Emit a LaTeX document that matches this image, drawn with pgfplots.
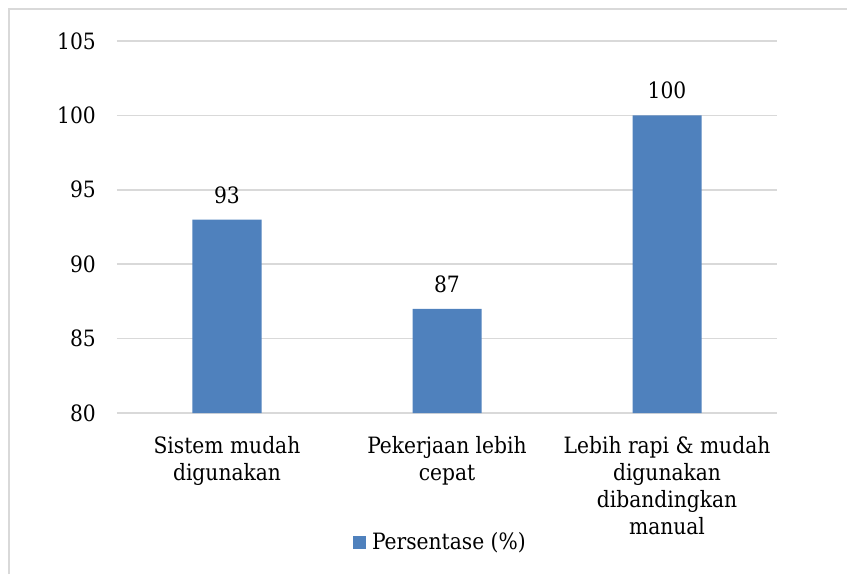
\documentclass[border=0pt]{standalone}
\usepackage{pgfplots}
\pgfplotsset{compat=1.18}
\usepackage{fontspec}
\setmainfont{DejaVu Serif Condensed}
\definecolor{barblue}{HTML}{4F81BD}
\definecolor{gridgray}{HTML}{D9D9D9}
\begin{document}
\fontsize{22.5}{27}\selectfont
\begin{tikzpicture}[x=1pt,y=1pt]
\useasboundingbox (0,0) rectangle (847,574);
\draw[gridgray, line width=2pt] (9,0) -- (9,565) -- (847,565);
\begin{axis}[
  at={(117pt,161pt)}, anchor=south west,
  scale only axis, width=660pt, height=372pt,
  ybar, bar width=69pt,
  xmin=-0.5, xmax=2.5, ymin=80, ymax=105,
  ytick={80,85,...,105},
  xtick={0,1,2},
  xticklabels={{Sistem mudah\\digunakan}, {Pekerjaan lebih\\cepat}, {Lebih rapi \& mudah\\digunakan\\dibandingkan\\manual}},
  axis line style={draw=none},
  major tick length=0pt,
  ymajorgrids, grid style={gridgray, line width=1.5pt},
  yticklabel style={inner sep=0pt, xshift=-21pt},
  xticklabel style={anchor=north, inner sep=0pt, yshift=-23pt, align=center},
  /pgf/number format/assume math mode=true,
  nodes near coords,
  every node near coord/.append style={anchor=south, inner sep=0pt, yshift=16pt, black},
  legend style={draw=none, at={(0.49,-0.349)}, anchor=center, inner sep=0pt, fill=none},
  legend image code/.code={\fill[barblue] (0pt,-6.5pt) rectangle (13pt,6.5pt);},
]
\addplot[fill=barblue, draw=none] coordinates {(0,93) (1,87) (2,100)};
\addlegendentry{\hspace{4pt}Persentase (\%)}
\end{axis}
\end{tikzpicture}
\end{document}
